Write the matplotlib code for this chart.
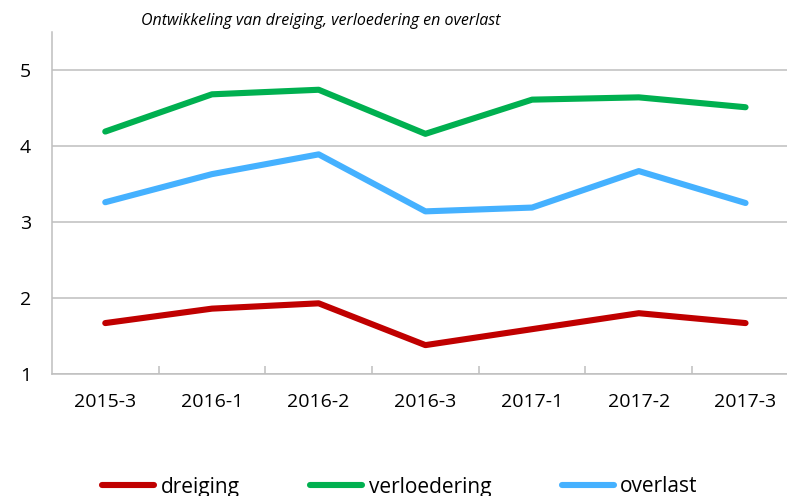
import matplotlib
matplotlib.use("Agg")
import matplotlib.pyplot as plt

# periods and scores
periods = ["2015-3", "2016-1", "2016-2", "2016-3", "2017-1", "2017-2", "2017-3"]
dreiging = [1.67, 1.86, 1.93, 1.38, 1.59, 1.80, 1.67]
verloedering = [4.19, 4.68, 4.74, 4.16, 4.61, 4.64, 4.51]
overlast = [3.26, 3.63, 3.89, 3.14, 3.19, 3.67, 3.25]

series = [("dreiging", dreiging, "#C00000"),
          ("verloedering", verloedering, "#00B050"),
          ("overlast", overlast, "#45B1FF")]

plt.rcParams["font.family"] = ["Open Sans", "DejaVu Sans"]
grey = "#BFBFBF"

fig = plt.figure(figsize=(7.87, 4.96), dpi=100)
ax = fig.add_axes([51.9 / 787, 122 / 496, 747 / 787, 342 / 496])

x = list(range(len(periods)))
for name, vals, col in series:
    ax.plot(x, vals, color=col, lw=4.4, solid_capstyle="round",
            solid_joinstyle="round", label=name)

ax.set_xlim(-0.5, len(periods) - 0.5)
ax.set_ylim(1, 5.5)
ax.set_yticks([1, 2, 3, 4, 5])
ax.set_xticks(x)
ax.set_xticklabels(periods)
ax.set_xticks([i + 0.5 for i in x], minor=True)
ax.tick_params(axis="x", which="major", length=0, pad=14, labelsize=14)
ax.tick_params(axis="x", which="minor", direction="in", length=5.5,
               width=1.1, color=grey)
ax.tick_params(axis="y", length=0, pad=15, labelsize=14)

ax.grid(axis="y", color=grey, lw=1.1)
ax.set_axisbelow(True)
for s in ["top", "right"]:
    ax.spines[s].set_visible(False)
for s in ["left", "bottom"]:
    ax.spines[s].set_color(grey)
    ax.spines[s].set_linewidth(1.1)

fig.text(321 / 787, 1 - 21 / 496, "Ontwikkeling van dreiging, verloedering en overlast",
         ha="center", va="center", style="italic", fontsize=11.5)

fig.legend(loc="center", bbox_to_anchor=(400 / 787, 9 / 496), ncol=3,
           frameon=False, fontsize=15, handlelength=2.5, handletextpad=0.3,
           columnspacing=3.4, borderpad=0)

fig.savefig("out.png", dpi=100)
